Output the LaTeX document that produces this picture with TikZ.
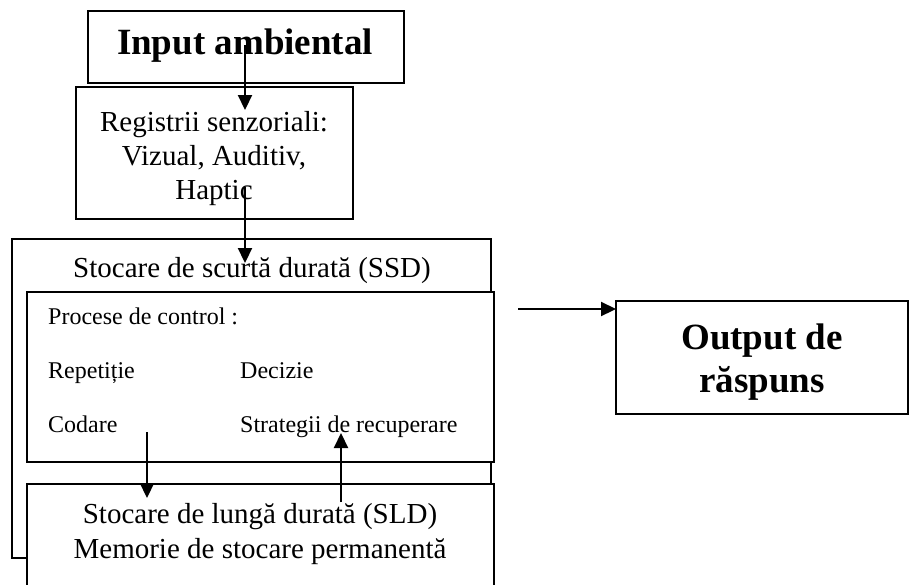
\documentclass[tikz,border=0pt]{standalone}
\usepackage{fontspec}
\setmainfont{Liberation Serif}
\usetikzlibrary{arrows.meta,positioning}
\tikzset{
  box/.style={draw,line width=2.2pt,fill=white,inner sep=0pt},
  flow/.style={line width=2.2pt,-{Triangle[length=15pt,width=14pt]}},
  ctrl/.style={anchor=base west,inner sep=0pt,font=\fontsize{24}{28}\selectfont},
  big/.style={font=\fontsize{29}{34}\selectfont,align=center,inner sep=0pt},
  huge/.style={font=\bfseries\fontsize{37}{43}\selectfont,align=center,inner sep=0pt}
}
\begin{document}
\begin{tikzpicture}[x=1pt,y=-1pt]
\useasboundingbox (0,0) rectangle (912,584);

% boxes
\node[box,minimum width=479,minimum height=319] (ssd) at (251.5,398.5) {};
\node[big] (ssdtxt) at (252,271) {Stocare de scurtă durată (SSD)};
\node[box,minimum width=467,minimum height=170] (ctrl) at (260.5,377) {};
\node[box,minimum width=467,minimum height=106] (sld) at (260.5,537) {};
\node[big,font=\fontsize{29}{35}\selectfont] (sldtxt) at (260,534) {Stocare de lungă durată (SLD)\\Memorie de stocare permanentă};
\node[box,minimum width=316,minimum height=72] (input) at (246,47) {};
\node[huge] (inputtxt) at (245,46) {Input ambiental};
\node[box,minimum width=277,minimum height=132] (regs) at (214.5,153) {};
\node[big] (regstxt) at (214,159) {Registrii senzoriali:\\Vizual, Auditiv,\\Haptic};
\node[box,minimum width=292,minimum height=113] (out) at (762,357.5) {};
\node[huge] (outtxt) at (762,362) {Output de\\răspuns};

% control processes
\node[ctrl] (proc) at (48,324) {Procese de control :};
\node[ctrl] (rep) at (48,378) {Repetiție};
\node[ctrl] (dec) at (240,378) {Decizie};
\node[ctrl] (cod) at (48,432) {Codare};
\node[ctrl] (strat) at (240,432) {Strategii de recuperare};

% arrows
\coordinate (a) at (245,45);
\coordinate (b) at (245,110);
\coordinate (c) at (245,187);
\coordinate (d) at (245,263);
\coordinate (e) at (147,432);
\coordinate (f) at (147,498);
\coordinate (g) at (341,502);
\coordinate (h) at (341,433);
\coordinate (i) at (518,309);
\coordinate (j) at (616,309);
\draw[flow] (a) -- (b);
\draw[flow] (c) -- (d);
\draw[flow] (e) -- (f);
\draw[flow] (g) -- (h);
\draw[flow] (i) -- (j);
\end{tikzpicture}
\end{document}
